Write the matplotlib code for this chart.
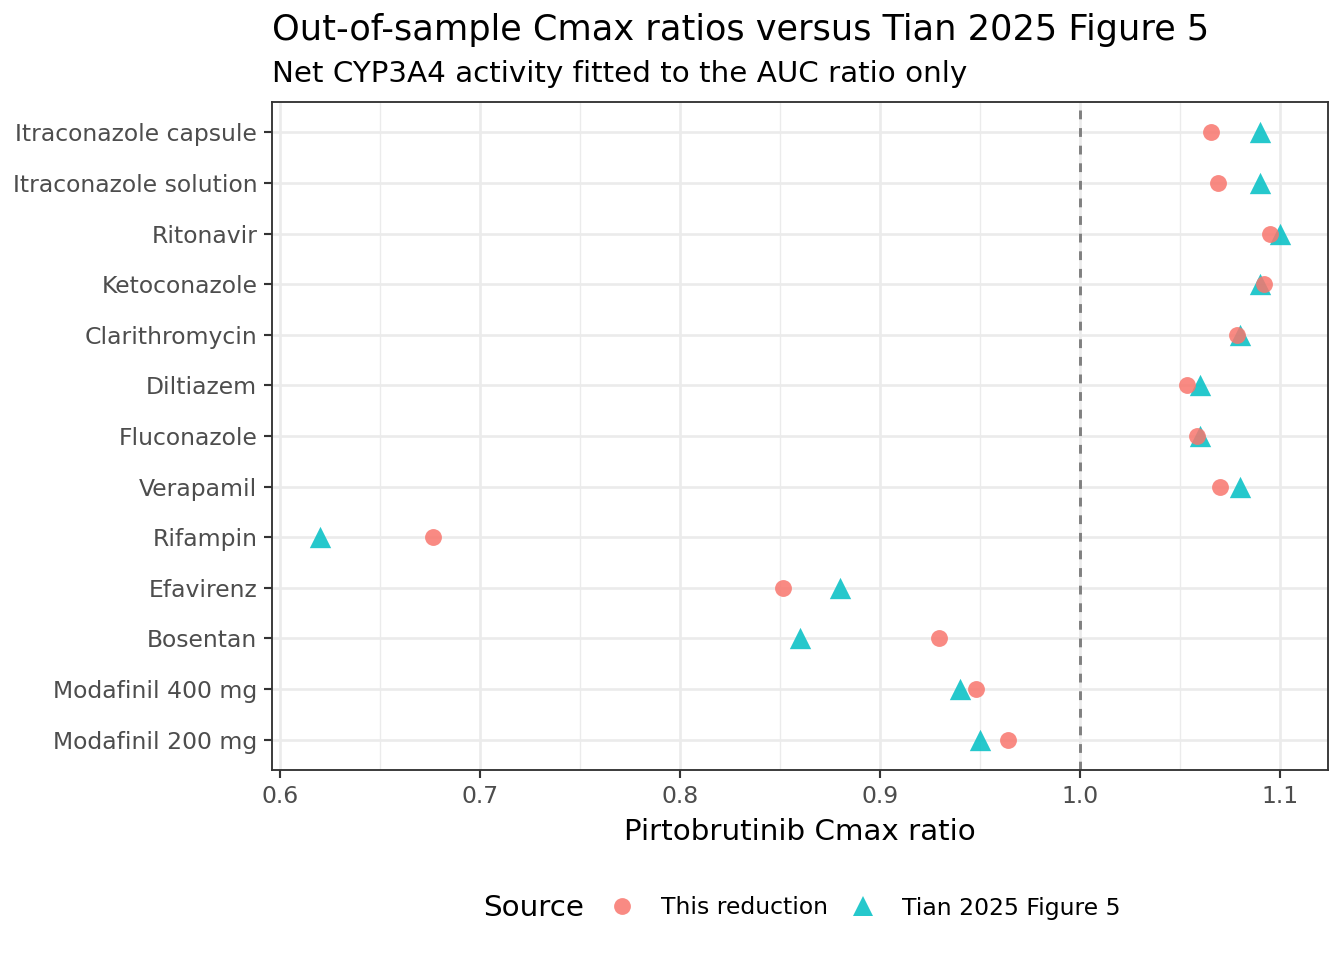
import numpy as np
import matplotlib.pyplot as plt
from matplotlib.lines import Line2D

# perpetrators, top to bottom
drugs = ["Itraconazole capsule", "Itraconazole solution", "Ritonavir", "Ketoconazole",
         "Clarithromycin", "Diltiazem", "Fluconazole", "Verapamil", "Rifampin",
         "Efavirenz", "Bosentan", "Modafinil 400 mg", "Modafinil 200 mg"]

# Cmax ratios
this_reduction = [1.0655, 1.069, 1.095, 1.092, 1.0785, 1.0535, 1.0585, 1.070,
                  0.6765, 0.8515, 0.9295, 0.948, 0.964]
tian_2025 = [1.09, 1.09, 1.10, 1.09, 1.08, 1.06, 1.06, 1.08,
             0.62, 0.88, 0.86, 0.94, 0.95]

xticks = [0.6, 0.7, 0.8, 0.9, 1.0, 1.1]
red = "#F8766D"
teal = "#00BFC4"

fig = plt.figure(figsize=(7, 5), dpi=192)
ax = fig.add_axes([272/1344, 1-770/960, (1328-272)/1344, (770-102)/960])

ypos = np.arange(len(drugs))[::-1]

ax.axvline(1.0, color="grey", lw=1.1, ls=(0, (3, 3)), zorder=2)
ax.scatter(tian_2025, ypos, marker="^", s=64, color=teal, alpha=0.85,
           linewidths=0, zorder=3)
ax.scatter(this_reduction, ypos, marker="o", s=40, color=red, alpha=0.85,
           linewidths=0, zorder=4)

ax.set_xlim(0.596, 1.124)
ax.set_ylim(-0.6, len(drugs) - 0.4)
ax.set_xticks(xticks)
ax.set_xticklabels([f"{t:.1f}" for t in xticks])
ax.set_xticks(np.arange(0.65, 1.11, 0.1), minor=True)
ax.set_yticks(ypos)
ax.set_yticklabels(drugs)
ax.tick_params(axis="both", which="major", length=3, width=0.8, color="#333333",
               labelsize=8.8, labelcolor="#4D4D4D", pad=2.5)
ax.tick_params(axis="x", which="minor", length=0)

ax.grid(True, which="major", color="#EBEBEB", lw=1.0, zorder=0)
ax.grid(True, which="minor", axis="x", color="#EBEBEB", lw=0.5, zorder=0)
ax.set_axisbelow(True)
for sp in ax.spines.values():
    sp.set_color("#333333")
    sp.set_linewidth(0.7)

ax.set_xlabel("Pirtobrutinib Cmax ratio", fontsize=11, labelpad=4)

fig.text(272/1344, 1-40/960, "Out-of-sample Cmax ratios versus Tian 2025 Figure 5",
         fontsize=13.2, ha="left", va="baseline")
fig.text(272/1344, 1-82/960, "Net CYP3A4 activity fitted to the AUC ratio only",
         fontsize=11, ha="left", va="baseline")

# legend at the bottom, title to the left
fig.text(483/1344, 1-908/960, "Source", fontsize=11, ha="left", va="center")
handles = [Line2D([], [], ls="none", marker="o", ms=6.3, color=red, alpha=0.85, mew=0),
           Line2D([], [], ls="none", marker="^", ms=7.8, color=teal, alpha=0.85, mew=0)]
fig.legend(handles, ["This reduction", "Tian 2025 Figure 5"], ncol=2,
           loc="center left", bbox_to_anchor=(587/1344, 1-908/960), frameon=False,
           fontsize=8.8, handletextpad=1.05, columnspacing=0.9, handlelength=1.2)

fig.savefig("out.png", dpi=192)
